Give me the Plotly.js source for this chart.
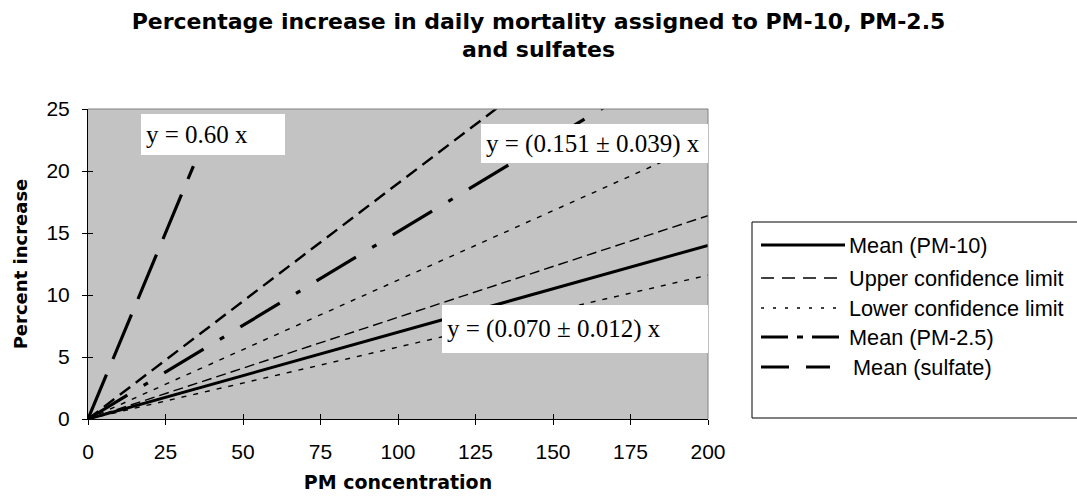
<!DOCTYPE html>
<html>
<head>
<meta charset="utf-8">
<script src="https://cdn.plot.ly/plotly-3.0.1.min.js"></script>
<style>html,body{margin:0;padding:0;background:#fff;}</style>
</head>
<body>
<div id="chart" style="width:1077px;height:504px;"></div>
<script>
// ---- data ----
const conc        = [0, 25, 50, 75, 100, 125, 150, 175, 200];
const pm10Mean    = [0, 1.75, 3.5, 5.25, 7.0, 8.75, 10.5, 12.25, 14.0];
const pm10Upper   = [0, 2.05, 4.1, 6.15, 8.2, 10.25, 12.3, 14.35, 16.4];
const pm10Lower   = [0, 1.45, 2.9, 4.35, 5.8, 7.25, 8.7, 10.15, 11.6];
const pm25Mean    = [0, 3.78, 7.55, 11.33, 15.1, 18.88, 22.65, 26.43, 30.2];
const pm25Upper   = [0, 4.75, 9.5, 14.25, 19.0, 23.75, 28.5, 33.25, 38.0];
const pm25Lower   = [0, 2.8, 5.6, 8.4, 11.2, 14.0, 16.8, 19.6, 22.4];
const sulfConc    = [0, 10, 20, 30, 34];
const sulfMean    = [0, 6, 12, 18, 20.4];
const xTicks      = [0, 25, 50, 75, 100, 125, 150, 175, 200];
const yTicks      = [0, 5, 10, 15, 20, 25];
const legendNames = ['Mean (PM-10)', 'Upper confidence limit', 'Lower confidence limit', 'Mean (PM-2.5)', 'Mean (sulfate)'];
const eqLabels    = ['y = 0.60 x', 'y = (0.151 \u00b1 0.039) x', 'y = (0.070 \u00b1 0.012) x'];

// ---- layout geometry (pixels) ----
const W = 1077, H = 504;
const L = 88, R = 708, T = 109, B = 419;
const px = v => (v - L) / (R - L);
const py = v => (B - v) / (B - T);

const sans = 'Liberation Sans, Arial, sans-serif';
const bold = 'DejaVu Sans, sans-serif';
const serif = 'Liberation Serif, Times New Roman, serif';

const st = {
  m10:  {color:'#000', width:3},
  u:    {color:'#000', width:1.4, dash:'10px,5px'},
  l:    {color:'#000', width:1.4, dash:'5px,7px'},
  m25:  {color:'#000', width:3.2, dash:'46px,19px,5px,19px'},
  u25:  {color:'#000', width:2.4, dash:'13px,7px'},
  sul:  {color:'#000', width:3.2, dash:'48px,17px'}
};

const traces = [
  {x: conc, y: pm10Lower, name: 'Lower (PM-10)', line: st.l},
  {x: conc, y: pm10Upper, name: 'Upper (PM-10)', line: st.u},
  {x: conc, y: pm25Lower, name: 'Lower (PM-2.5)', line: st.l},
  {x: conc, y: pm25Upper, name: 'Upper (PM-2.5)', line: st.u25},
  {x: conc, y: pm10Mean, name: legendNames[0], line: st.m10},
  {x: conc, y: pm25Mean, name: legendNames[3], line: st.m25},
  {x: sulfConc, y: sulfMean, name: legendNames[4], line: st.sul}
].map(t => Object.assign({type:'scatter', mode:'lines', showlegend:false, hoverinfo:'skip'}, t));
// helper trace for the inner half of the crossing tick marks
traces.push({type:'scatter', mode:'lines', x:[], y:[], xaxis:'x2', yaxis:'y2', showlegend:false, hoverinfo:'skip'});

// ---- manual legend ----
const legRows = [245, 278, 308, 337, 367];
const legStyles = [
  {color:'#000', width:3},
  {color:'#000', width:1.4, dash:'13px,8px'},
  {color:'#000', width:1.4, dash:'3px,9px'},
  {color:'#000', width:3, dash:'27px,9px,6px,9px'},
  {color:'#000', width:3, dash:'28px,17px'}
];
const legX1 = [845, 845, 843, 845, 830];

const shapes = [
  {type:'line', xref:'paper', yref:'paper', x0:0, x1:1, y0:1, y1:1, line:{color:'#808080', width:1}},
  {type:'line', xref:'paper', yref:'paper', x0:1, x1:1, y0:0, y1:1, line:{color:'#808080', width:1}},
  {type:'rect', xref:'paper', yref:'paper', x0:px(752), x1:px(1085), y0:py(222), y1:py(418), line:{color:'#000', width:1}, fillcolor:'#fff'}
];
legRows.forEach((r, i) => {
  shapes.push({type:'line', xref:'paper', yref:'paper', x0:px(761), x1:px(legX1[i]), y0:py(r), y1:py(r), line:legStyles[i]});
});

const annotations = [];
legRows.forEach((r, i) => {
  annotations.push({xref:'paper', yref:'paper', x:px(i === 4 ? 851 : 847), y:py(r), xanchor:'left', yanchor:'middle',
    text:legendNames[i], showarrow:false, font:{family:sans, size:21.7, color:'#000'}});
});
const eqBoxes = [
  {l:141, t:114, w:144, h:41},
  {l:481, t:124, w:227, h:39},
  {l:442, t:305, w:266, h:48}
];
eqBoxes.forEach((b, i) => {
  annotations.push({xref:'paper', yref:'paper', x:px(b.l), y:py(b.t), xanchor:'left', yanchor:'top',
    width:b.w - 10, height:b.h - 10, borderpad:5, borderwidth:0, bgcolor:'#fff', align:'left', valign:'middle',
    text:eqLabels[i], showarrow:false, font:{family:serif, size:25, color:'#000'}});
});

const axBase = {showgrid:false, zeroline:false, showline:true, linecolor:'#000', linewidth:1,
  ticks:'outside', ticklen:5, tickcolor:'#000', tickwidth:1,
  tickfont:{family:sans, size:21, color:'#000'}};

const layout = {
  width: W, height: H,
  margin: {l:L, r:W - R, t:T, b:H - B, pad:0},
  paper_bgcolor:'#fff', plot_bgcolor:'#c3c3c3',
  showlegend:false,
  title: {text:'Percentage increase in daily mortality assigned to PM-10, PM-2.5<br>and sulfates',
    font:{family:bold, size:22, color:'#000', weight:'bold'},
    x:0.5, xanchor:'center', xref:'container', y:0.943, yanchor:'top', yref:'container'},
  xaxis: Object.assign({}, axBase, {range:[0, 200], tickvals:xTicks, ticktext:xTicks.map(String),
    ticklabelstandoff:9,
    title:{text:'PM concentration', font:{family:bold, size:19, color:'#000', weight:'bold'}, standoff:13}}),
  yaxis: Object.assign({}, axBase, {range:[0, 25], tickvals:yTicks, ticktext:yTicks.map(String),
    ticklabelstandoff:8,
    title:{text:'Percent increase', font:{family:bold, size:18, color:'#000', weight:'bold'}, standoff:14}}),
  xaxis2: {overlaying:'x', anchor:'y2', range:[0, 200], tickvals:xTicks, showticklabels:false, ticks:'inside', ticklen:5,
    tickcolor:'#000', showgrid:false, zeroline:false, showline:false},
  yaxis2: {overlaying:'y', anchor:'x2', range:[0, 25], tickvals:yTicks, showticklabels:false, ticks:'inside', ticklen:5,
    tickcolor:'#000', showgrid:false, zeroline:false, showline:false},
  shapes: shapes,
  annotations: annotations
};

Plotly.newPlot('chart', traces, layout, {staticPlot:true, displayModeBar:false});
</script>
</body>
</html>
